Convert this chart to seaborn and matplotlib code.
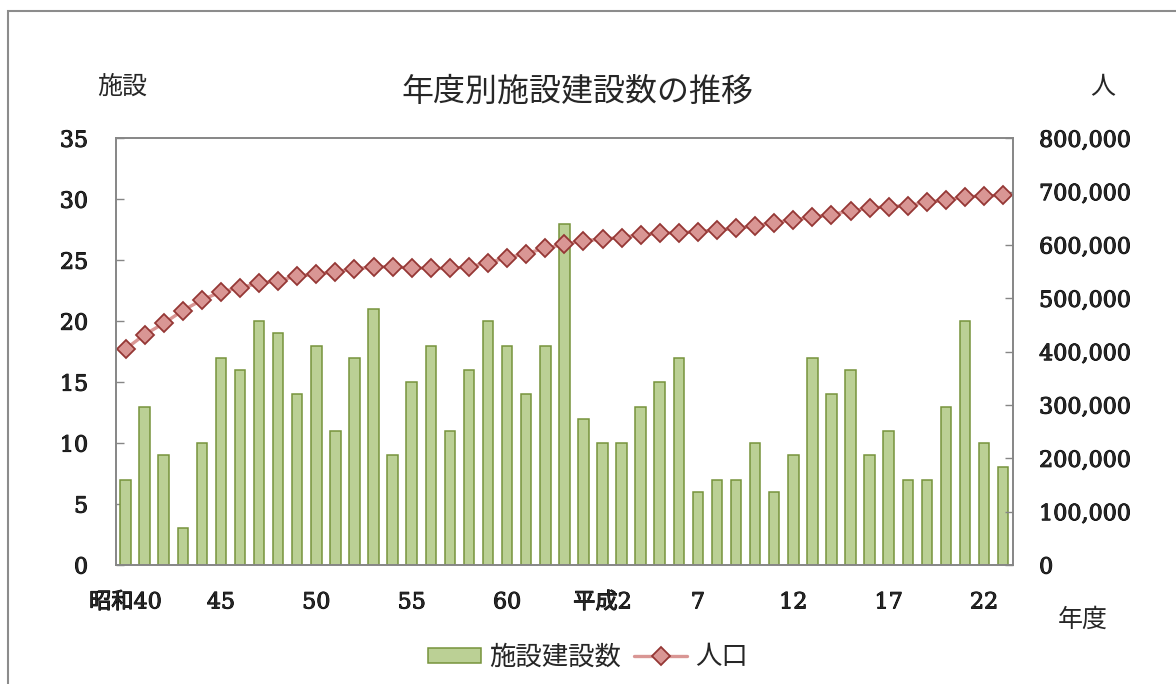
import numpy as np
import matplotlib
matplotlib.use('Agg')
import matplotlib.pyplot as plt
import matplotlib.ticker as mticker
import matplotlib.patheffects as pe
from matplotlib.patches import Rectangle
import pandas as pd
import seaborn as sns

# data
years = ['昭和%d' % y for y in range(40, 64)] + ['平成%d' % y for y in range(1, 24)]
facilities = [7, 13, 9, 3, 10, 17, 16, 20, 19, 14, 18, 11, 17, 21, 9, 15, 18, 11, 16, 20, 18, 14, 18, 28,
              12, 10, 10, 13, 15, 17, 6, 7, 7, 10, 6, 9, 17, 14, 16, 9, 11, 7, 7, 13, 20, 10, 8]
population = [405000, 432000, 453000, 477000, 497000, 512000, 520000, 528000, 533000, 542000,
              545000, 550000, 555000, 559000, 559000, 557000, 556000, 556000, 559000, 567000,
              576000, 584000, 594000, 601000, 608000, 611000, 614000, 619000, 622000, 623000,
              625000, 628000, 631000, 636000, 642000, 647000, 652000, 657000, 664000, 669000,
              672000, 674000, 680000, 684000, 690000, 692000, 693000]
tick_pos = [0, 5, 10, 15, 20, 25, 30, 35, 40, 45]
tick_labels = ['昭和40', '45', '50', '55', '60', '平成2', '7', '12', '17', '22']

df = pd.DataFrame({'year': years, 'facilities': facilities, 'population': population,
                   'idx': np.arange(len(years))})

sns.set_style('white')
plt.rcParams['font.family'] = ['DejaVu Serif', 'Noto Sans CJK JP']
jp = 'Noto Sans CJK JP'

bar_face = '#BBD095'
bar_edge = '#77933C'
line_col = '#D99694'
mk_edge = '#953735'
axis_gray = '#868686'

fig = plt.figure(figsize=(11.76, 6.84), dpi=100)
ax = fig.add_axes([116 / 1176, 1 - 565 / 684, (1012.7 - 116) / 1176, (565 - 138.3) / 684])

sns.barplot(data=df, x='year', y='facilities', ax=ax, color=bar_face, edgecolor=bar_edge,
            linewidth=1.1, width=0.55, saturation=1)

ax2 = ax.twinx()
sns.lineplot(data=df, x='idx', y='population', ax=ax2, color=line_col, linewidth=2.4,
             marker='D', markersize=9, markerfacecolor=line_col, markeredgecolor=mk_edge,
             markeredgewidth=1.3)

ax.set_xlim(-0.5, len(years) - 0.5)
ax.set_ylim(0, 35)
ax.set_yticks(range(0, 36, 5))
ax2.set_ylim(0, 800000)
ax2.set_yticks(range(0, 800001, 100000))
ax2.yaxis.set_major_formatter(mticker.StrMethodFormatter('{x:,.0f}'))

ax.set_xticks(tick_pos)
ax.set_xticklabels(tick_labels)
ax.set_xticks(np.arange(0.5, len(years) - 1, 1.0), minor=True)

for a in (ax, ax2):
    a.set_xlabel('')
    a.set_ylabel('')
    for s in a.spines.values():
        s.set_color(axis_gray)
        s.set_linewidth(1.2)

ax.tick_params(axis='x', which='major', length=0, pad=19, labelsize=16)
ax.tick_params(axis='x', which='minor', direction='in', length=6, width=1, color=axis_gray)
ax.tick_params(axis='y', direction='in', length=6, width=1, color=axis_gray, pad=20, labelsize=16)
ax2.tick_params(axis='y', direction='in', length=6, width=1, color=axis_gray, pad=19, labelsize=16)
# slightly heavier digits, like the original's Century face
heavy = [pe.withStroke(linewidth=0.7, foreground='black')]
for lab in ax.get_xticklabels() + ax.get_yticklabels() + ax2.get_yticklabels():
    lab.set_path_effects(heavy)

# titles and axis captions
fig.text(577 / 1176, 1 - 92 / 684, '年度別施設建設数の推移', family=jp, fontsize=23,
         ha='center', va='center')
fig.text(122 / 1176, 1 - 87 / 684, '施設', family=jp, fontsize=18, ha='center', va='center')
fig.text(1103 / 1176, 1 - 87 / 684, '人', family=jp, fontsize=18, ha='center', va='center')
fig.text(1083 / 1176, 1 - 620 / 684, '年度', family=jp, fontsize=18, ha='center', va='center')

fig.legend([ax.containers[0], ax2.lines[0]], ['施設建設数', '人口'], loc='center',
           bbox_to_anchor=(0.5, 1 - 657 / 684), ncol=2, frameon=False,
           prop={'family': jp, 'size': 19}, handlelength=2.0, handleheight=0.5,
           handletextpad=0.3, columnspacing=0.5)

# outer chart frame
fig.patches.append(Rectangle((8 / 1176, -0.1), 1.2, 1 - 11.5 / 684 + 0.1, transform=fig.transFigure,
                             fill=False, edgecolor='#8C8C8C', linewidth=1.5))

fig.savefig('out.png', dpi=100)
